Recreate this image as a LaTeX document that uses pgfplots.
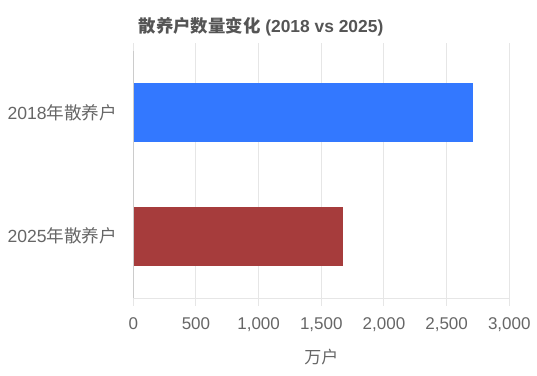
\documentclass[border=0pt]{standalone}
\usepackage{fontspec}
\setmainfont{Liberation Sans}
\newfontfamily\cjk{Noto Sans CJK SC}
\usepackage{pgfplots}
\pgfplotsset{compat=1.18}
\definecolor{bblue}{HTML}{3378FF}
\definecolor{bred}{HTML}{A63C3C}
\definecolor{gridc}{HTML}{E6E6E6}
\definecolor{axc}{HTML}{CCCCCC}
\definecolor{txt}{HTML}{666666}
\definecolor{ttl}{HTML}{555555}
\begin{document}
\begin{tikzpicture}[x=1pt,y=1pt]
\useasboundingbox (0,0) rectangle (537,375);
\begin{axis}[
  at={(133.3pt,77pt)}, anchor=south west,
  scale only axis, width=376pt, height=247pt,
  xbar, bar width=59.4pt, bar shift=0pt,
  xmin=0, xmax=3000, ymin=-0.5, ymax=1.5,
  ytick={0,1},
  yticklabels={{2025{\cjk 年散养户}},{2018{\cjk 年散养户}}},
  xtick={0,500,...,3000},
  axis line style={draw=none},
  xmajorgrids, major x grid style={draw=gridc, line width=1pt},
  tick align=outside, major tick length=8pt,
  xtick style={draw=gridc, line width=1pt},
  ytick style={draw=none},
  /pgf/number format/.cd, 1000 sep={,}, assume math mode=true, /pgfplots/.cd,
  ticklabel style={font=\fontsize{17}{20}\selectfont, text=txt},
  xticklabel style={yshift=-8pt},
  yticklabel style={font=\fontsize{17.6}{20}\selectfont, inner sep=0pt, xshift=-8pt},
  xlabel={\cjk 万户},
  xlabel style={font=\fontsize{17}{20}\selectfont, text=txt, at={(axis description cs:0.5,0)}, anchor=center, yshift=-58.7pt},
  clip=false,
]
\draw[gridc, line width=1pt] (axis cs:0,-0.5) -- (axis cs:3000,-0.5);
\addplot[fill=bblue, draw=none] coordinates {(2710,1)};
\addplot[fill=bred, draw=none] coordinates {(1672,0)};
\draw[axc, line width=1.2pt] (axis cs:0,-0.5) -- (axis cs:0,1.5);
\end{axis}
\node[font=\fontsize{17.4}{20}\selectfont\bfseries, text=ttl] at (261,348.5) {{\cjk 散养户数量变化} (2018 vs 2025)};
\end{tikzpicture}
\end{document}
